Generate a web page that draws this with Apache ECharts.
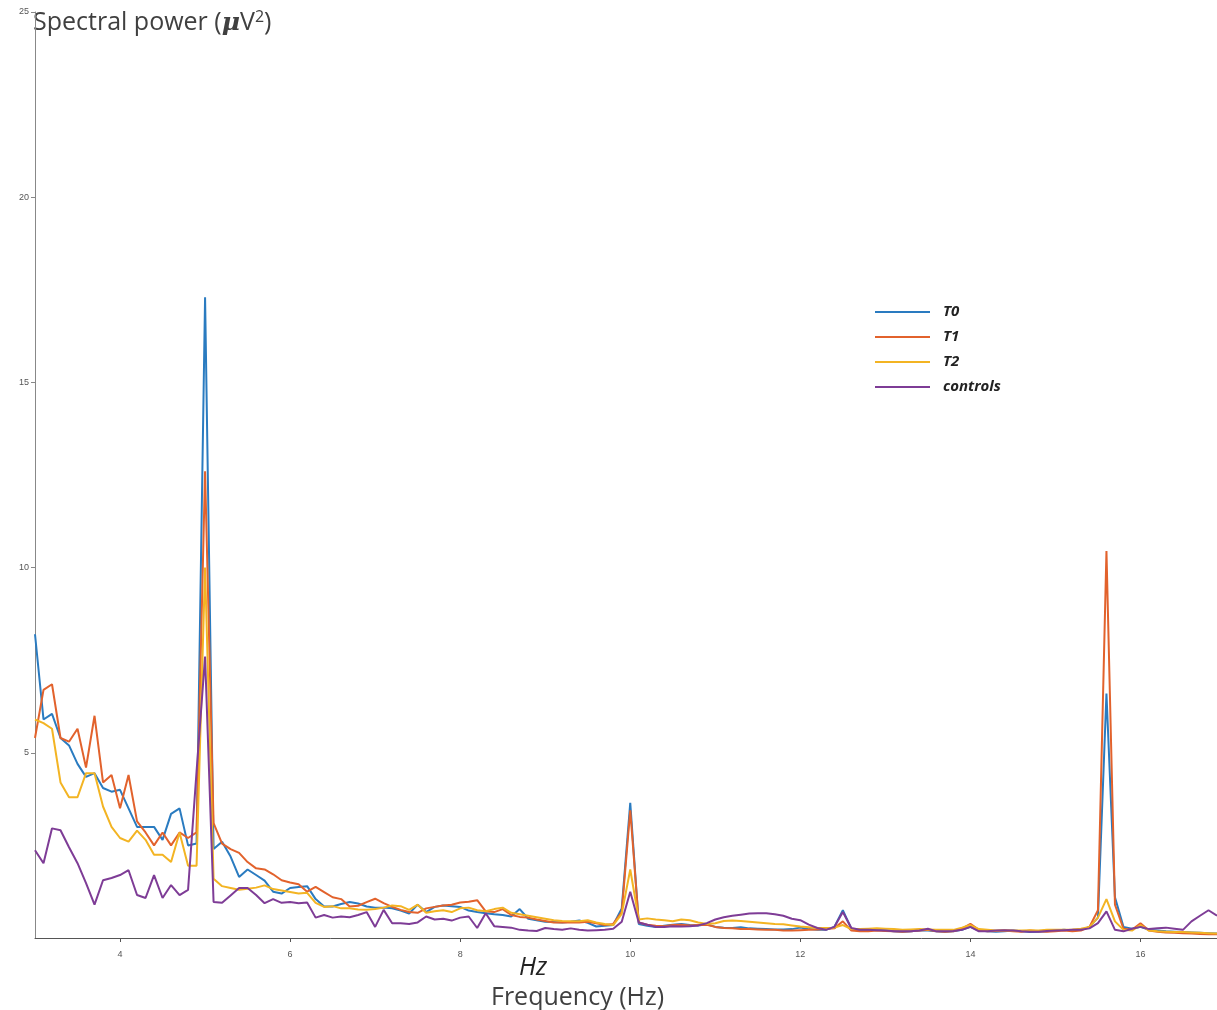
<!DOCTYPE html>
<html>
<head>
<meta charset="utf-8">
<script src="https://cdn.jsdelivr.net/npm/echarts@6/dist/echarts.min.js"></script>
<style>
  html, body { margin: 0; padding: 0; background: #ffffff; }
  #chart { width: 1217px; height: 1010px; }
</style>
</head>
<body>
<div id="chart"></div>
<script>
// Frequency bins (Hz), 0.1 Hz resolution from 3.0 to 16.9
const freqs = Array.from({ length: 140 }, (_, i) => +(3 + i * 0.1).toFixed(1));

// Spectral power (µV²) per bin
const t0 = [
  8.2, 5.9, 6.05, 5.4, 5.2, 4.7, 4.35, 4.45, 4.05, 3.95,
  4.0, 3.5, 3.0, 3.0, 3.0, 2.65, 3.35, 3.5, 2.5, 2.55,
  17.3, 2.4, 2.6, 2.2, 1.65, 1.85, 1.7, 1.55, 1.25, 1.2,
  1.35, 1.38, 1.4, 1.05, 0.85, 0.85, 0.92, 0.97, 0.93, 0.85,
  0.82, 0.82, 0.8, 0.74, 0.66, 0.9, 0.7, 0.84, 0.88, 0.86,
  0.84, 0.74, 0.7, 0.67, 0.64, 0.62, 0.58, 0.78, 0.52, 0.48,
  0.44, 0.43, 0.42, 0.44, 0.47, 0.41, 0.31, 0.33, 0.35, 0.8,
  3.65, 0.38, 0.33, 0.3, 0.33, 0.36, 0.38, 0.35, 0.34, 0.37,
  0.3, 0.28, 0.27, 0.29, 0.26, 0.25, 0.24, 0.23, 0.23, 0.24,
  0.28, 0.24, 0.22, 0.22, 0.3, 0.75, 0.25, 0.2, 0.2, 0.22,
  0.2, 0.18, 0.17, 0.18, 0.2, 0.2, 0.18, 0.17, 0.18, 0.22,
  0.3, 0.2, 0.18, 0.17, 0.18, 0.2, 0.18, 0.16, 0.17, 0.18,
  0.2, 0.22, 0.2, 0.22, 0.3, 0.55, 6.6, 1.1, 0.3, 0.25,
  0.3, 0.22, 0.2, 0.18, 0.17, 0.16, 0.15, 0.14, 0.13, 0.12
];
const t1 = [
  5.4, 6.7, 6.85, 5.4, 5.3, 5.65, 4.6, 6.0, 4.2, 4.4,
  3.5, 4.4, 3.15, 2.85, 2.5, 2.85, 2.5, 2.85, 2.7, 2.85,
  12.6, 3.1, 2.55, 2.4, 2.3, 2.05, 1.88, 1.85, 1.72, 1.56,
  1.5, 1.45, 1.25, 1.38, 1.24, 1.1, 1.05, 0.85, 0.87, 0.97,
  1.06, 0.94, 0.84, 0.76, 0.7, 0.68, 0.8, 0.84, 0.88, 0.9,
  0.96, 0.98, 1.02, 0.72, 0.7, 0.78, 0.62, 0.57, 0.55, 0.5,
  0.46, 0.42, 0.42, 0.42, 0.42, 0.44, 0.4, 0.35, 0.38, 0.7,
  3.45, 0.42, 0.36, 0.33, 0.32, 0.35, 0.36, 0.34, 0.35, 0.36,
  0.3, 0.27, 0.26, 0.24, 0.24, 0.23, 0.22, 0.22, 0.2, 0.2,
  0.21, 0.22, 0.23, 0.24, 0.26, 0.45, 0.2, 0.18, 0.18, 0.2,
  0.19, 0.18, 0.17, 0.18, 0.2, 0.22, 0.18, 0.17, 0.18, 0.25,
  0.38, 0.22, 0.18, 0.19, 0.2, 0.18, 0.17, 0.2, 0.18, 0.17,
  0.18, 0.2, 0.18, 0.2, 0.3, 0.75, 10.45, 0.9, 0.25, 0.22,
  0.4, 0.2, 0.17, 0.15, 0.14, 0.13, 0.12, 0.11, 0.1, 0.1
];
const t2 = [
  5.9, 5.8, 5.65, 4.2, 3.8, 3.8, 4.45, 4.45, 3.55, 3.0,
  2.7, 2.6, 2.9, 2.65, 2.25, 2.25, 2.05, 2.85, 1.95, 1.95,
  10.0, 1.6, 1.4, 1.35, 1.3, 1.33, 1.36, 1.42, 1.32, 1.28,
  1.24, 1.2, 1.22, 0.95, 0.84, 0.86, 0.8, 0.8, 0.77, 0.76,
  0.78, 0.82, 0.88, 0.86, 0.76, 0.9, 0.68, 0.72, 0.75, 0.7,
  0.8, 0.82, 0.75, 0.72, 0.78, 0.82, 0.68, 0.64, 0.6, 0.56,
  0.52, 0.48, 0.46, 0.45, 0.45, 0.48, 0.42, 0.38, 0.35, 0.65,
  1.85, 0.5, 0.53, 0.5, 0.48, 0.45, 0.5, 0.48, 0.42, 0.38,
  0.4, 0.46, 0.47, 0.46, 0.44, 0.42, 0.4, 0.38, 0.37, 0.34,
  0.31, 0.29, 0.27, 0.27, 0.28, 0.35, 0.24, 0.24, 0.25, 0.26,
  0.25, 0.24, 0.22, 0.23, 0.24, 0.23, 0.22, 0.22, 0.22, 0.28,
  0.35, 0.24, 0.22, 0.2, 0.21, 0.2, 0.2, 0.21, 0.2, 0.22,
  0.22, 0.22, 0.23, 0.25, 0.3, 0.55, 1.05, 0.45, 0.22, 0.2,
  0.35, 0.2, 0.18, 0.17, 0.16, 0.16, 0.15, 0.14, 0.13, 0.12
];
const controls = [
  2.37, 2.02, 2.96, 2.91, 2.45, 2.02, 1.48, 0.9, 1.56, 1.62,
  1.7, 1.83, 1.16, 1.08, 1.7, 1.08, 1.43, 1.16, 1.3, 4.5,
  7.6, 0.97, 0.95, 1.15, 1.35, 1.35, 1.16, 0.94, 1.05, 0.95,
  0.97, 0.94, 0.96, 0.55, 0.62, 0.55, 0.58, 0.56, 0.62, 0.7,
  0.3, 0.76, 0.4, 0.4, 0.38, 0.42, 0.58, 0.5, 0.52, 0.47,
  0.55, 0.58, 0.27, 0.67, 0.32, 0.3, 0.28, 0.22, 0.2, 0.19,
  0.27, 0.24, 0.22, 0.26, 0.22, 0.2, 0.21, 0.22, 0.25, 0.44,
  1.25, 0.42, 0.36, 0.3, 0.3, 0.32, 0.31, 0.32, 0.34, 0.4,
  0.5, 0.56, 0.6, 0.63, 0.66, 0.67, 0.67, 0.64, 0.6, 0.52,
  0.48, 0.36, 0.27, 0.22, 0.3, 0.7, 0.27, 0.22, 0.22, 0.21,
  0.2, 0.18, 0.18, 0.18, 0.2, 0.25, 0.18, 0.18, 0.19, 0.22,
  0.3, 0.18, 0.18, 0.2, 0.21, 0.2, 0.18, 0.17, 0.17, 0.19,
  0.2, 0.21, 0.22, 0.22, 0.26, 0.4, 0.72, 0.22, 0.18, 0.25,
  0.3, 0.24, 0.26, 0.28, 0.25, 0.22, 0.45, 0.6, 0.75, 0.6
];

const seriesNames = ['T0', 'T1', 'T2', 'controls'];
const seriesColors = ['#2a7bc0', '#e2622c', '#f3b423', '#7e3c96'];
const seriesValues = [t0, t1, t2, controls];

const xTickValues = [4, 6, 8, 10, 12, 14, 16];
const yTickValues = [5, 10, 15, 20, 25];

const chart = echarts.init(document.getElementById('chart'), null, { renderer: 'canvas' });

const tickLabelStyle = { color: '#555', fontSize: 9, fontFamily: 'Liberation Sans, Arial, sans-serif' };
const bodyFont = 'Open Sans, Noto Sans, sans-serif';

chart.setOption({
  animation: false,
  backgroundColor: '#ffffff',
  grid: { left: 35, right: 0, top: 12, bottom: 72, containLabel: false },
  xAxis: {
    type: 'value',
    min: 3,
    max: 16.9,
    axisLine: { show: true, lineStyle: { color: '#555', width: 1 } },
    axisTick: { show: true, customValues: xTickValues, length: 4, lineStyle: { color: '#555' } },
    axisLabel: { customValues: xTickValues, margin: 12, ...tickLabelStyle },
    splitLine: { show: false }
  },
  yAxis: {
    type: 'value',
    min: 0,
    max: 25,
    axisLine: { show: true, lineStyle: { color: '#888', width: 1 } },
    axisTick: { show: true, customValues: yTickValues, length: 4, lineStyle: { color: '#888' } },
    axisLabel: { customValues: yTickValues, margin: 6, ...tickLabelStyle },
    splitLine: { show: false }
  },
  legend: {
    orient: 'vertical',
    left: 870,
    top: 298,
    icon: 'rect',
    itemWidth: 55,
    itemHeight: 2,
    itemGap: 7,
    data: seriesNames,
    textStyle: {
      color: '#222',
      fontSize: 15,
      fontStyle: 'italic',
      fontWeight: 'bold',
      fontFamily: bodyFont,
      lineHeight: 18,
      padding: [0, 0, 0, 8]
    }
  },
  graphic: [
    {
      type: 'text',
      left: 33,
      top: 9,
      style: {
        text: '{a|Spectral power (}{mu|μ}{a|V}{sup|2}{a|)}',
        rich: {
          a: { fontSize: 25, fill: '#404040', fontFamily: bodyFont },
          mu: { fontSize: 25, fill: '#404040', fontWeight: 'bold', fontStyle: 'italic', fontFamily: 'DejaVu Serif, serif' },
          sup: { fontSize: 16, fill: '#404040', fontFamily: bodyFont, padding: [0, 0, 12, 0] }
        }
      }
    },
    {
      type: 'text',
      left: 519,
      top: 955,
      style: { text: 'Hz', fontSize: 25, fontStyle: 'italic', fill: '#222', fontFamily: bodyFont }
    },
    {
      type: 'text',
      left: 491,
      top: 985,
      style: { text: 'Frequency (Hz)', fontSize: 25, fill: '#404040', fontFamily: bodyFont }
    }
  ],
  series: seriesNames.map((name, k) => ({
    name,
    type: 'line',
    data: freqs.map((f, i) => [f, seriesValues[k][i]]),
    showSymbol: false,
    symbol: 'none',
    smooth: false,
    lineStyle: { width: 2, color: seriesColors[k] },
    itemStyle: { color: seriesColors[k] },
    z: 2 + k
  }))
});
</script>
</body>
</html>
